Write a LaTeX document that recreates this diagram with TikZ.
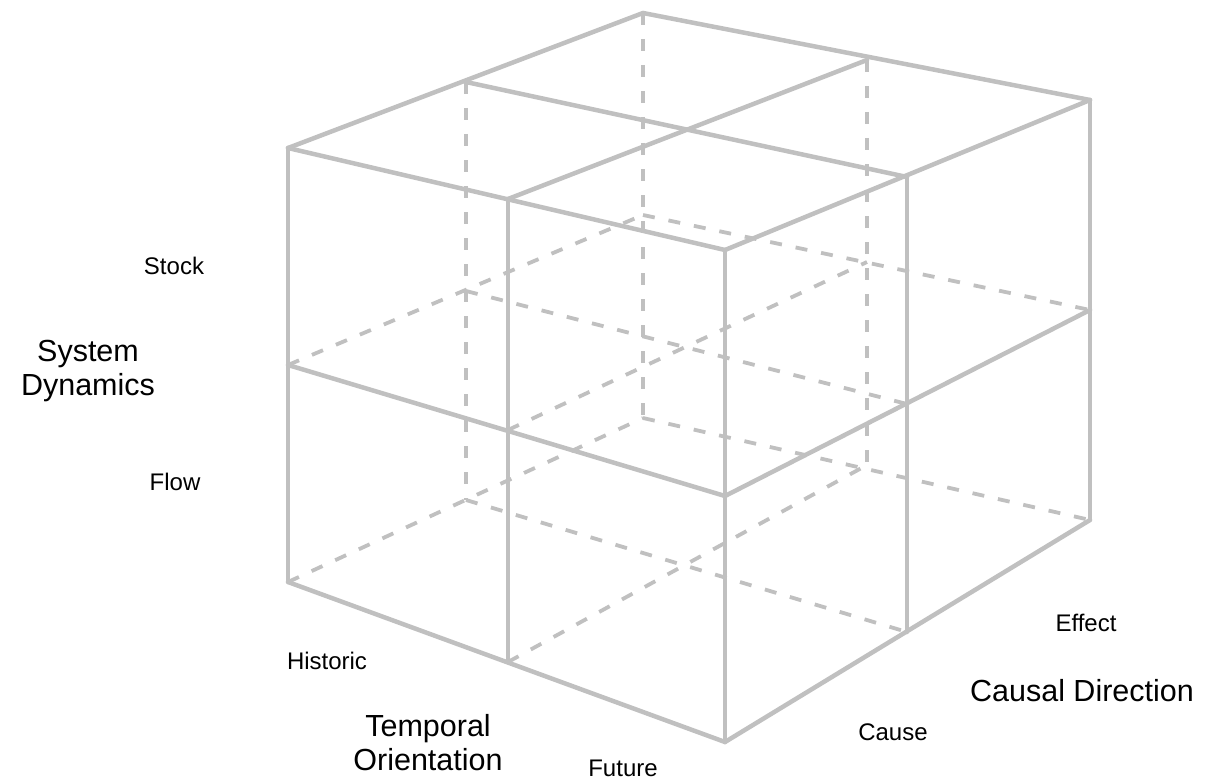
\documentclass[tikz,border=0pt]{standalone}
\usepackage{fontspec}
\setmainfont{Liberation Sans}
\definecolor{edgegray}{RGB}{192,192,192}
\begin{document}
\begin{tikzpicture}[x=1pt,y=-1pt,
  solidedge/.style={draw=edgegray,line width=4.5pt,line cap=round,line join=round},
  hiddenedge/.style={draw=edgegray,line width=3.8pt,dash pattern=on 12pt off 14pt},
  smalllabel/.style={inner sep=0pt,font=\fontsize{24}{28}\selectfont},
  biglabel/.style={inner sep=0pt,align=center,font=\fontsize{30.5}{34}\selectfont}]
\useasboundingbox (0,0) rectangle (1207,781);
% grid vertices v<a><b><c>
\coordinate (v000) at (288,582);
\coordinate (v001) at (288,365);
\coordinate (v002) at (288,148);
\coordinate (v100) at (508,662);
\coordinate (v101) at (508,430);
\coordinate (v102) at (508,199);
\coordinate (v200) at (725,742);
\coordinate (v201) at (725,496);
\coordinate (v202) at (725,250);
\coordinate (v210) at (907,632);
\coordinate (v211) at (907,404);
\coordinate (v212) at (907,177);
\coordinate (v220) at (1090,520);
\coordinate (v221) at (1090,310);
\coordinate (v222) at (1090,100);
\coordinate (v010) at (466,500);
\coordinate (v011) at (466,291);
\coordinate (v012) at (466,82);
\coordinate (v020) at (643,418);
\coordinate (v021) at (643,215);
\coordinate (v022) at (643,13);
\coordinate (v120) at (867,465);
\coordinate (v121) at (867,262);
\coordinate (v122) at (867,60);
% hidden edges
\draw[hiddenedge] (v012) -- (v010);
\draw[hiddenedge] (v022) -- (v020);
\draw[hiddenedge] (v122) -- (v120);
\draw[hiddenedge] (v001) -- (v021);
\draw[hiddenedge] (v000) -- (v020);
\draw[hiddenedge] (v101) -- (v121);
\draw[hiddenedge] (v100) -- (v120);
\draw[hiddenedge] (v011) -- (v211);
\draw[hiddenedge] (v010) -- (v210);
\draw[hiddenedge] (v021) -- (v221);
\draw[hiddenedge] (v020) -- (v220);
% visible edges: left face
\draw[solidedge] (v002) -- (v000);
\draw[solidedge] (v102) -- (v100);
\draw[solidedge] (v202) -- (v200);
\draw[solidedge] (v001) -- (v201);
\draw[solidedge] (v000) -- (v200);
% right face
\draw[solidedge] (v212) -- (v210);
\draw[solidedge] (v222) -- (v220);
\draw[solidedge] (v201) -- (v221);
\draw[solidedge] (v200) -- (v220);
% top face
\draw[solidedge] (v002) -- (v202);
\draw[solidedge] (v202) -- (v222);
\draw[solidedge] (v222) -- (v022);
\draw[solidedge] (v022) -- (v002);
\draw[solidedge] (v102) -- (v122);
\draw[solidedge] (v012) -- (v212);
% labels
\node[smalllabel] (stock) at (174,266) {Stock};
\node[smalllabel] (flow) at (175,482) {Flow};
\node[biglabel] (sysdyn) at (88,371) {System\\Dynamics};
\node[smalllabel] (historic) at (327,661) {Historic};
\node[biglabel] (temporal) at (428,743) {Temporal\\Orientation};
\node[smalllabel] (future) at (623,768) {Future};
\node[smalllabel] (cause) at (893,732) {Cause};
\node[smalllabel] (effect) at (1086,623) {Effect};
\node[biglabel] (causal) at (1082,691) {Causal Direction};
\end{tikzpicture}
\end{document}
